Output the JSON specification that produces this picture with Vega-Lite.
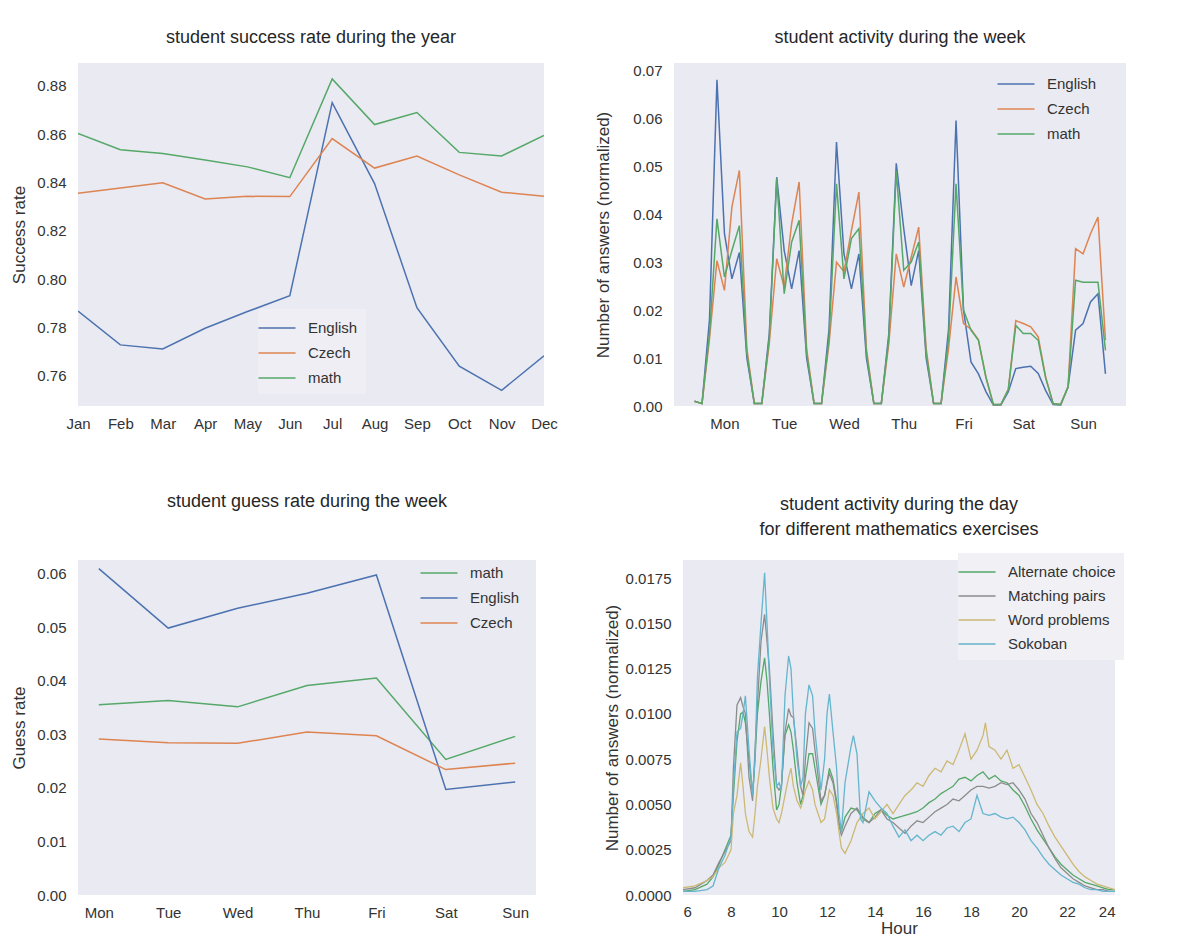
{
  "$schema": "https://vega.github.io/schema/vega-lite/v6.json",
  "background": "white",
  "padding": {"left": 10, "top": 29, "right": 0, "bottom": 0},
  "config": {
    "font": "Liberation Sans",
    "view": {"fill": "#EAEAF2", "stroke": null},
    "title": {"fontSize": 18, "fontWeight": "normal", "color": "#262626", "font": "Liberation Sans"},
    "axis": {"labelFontSize": 15, "labelColor": "#333333", "titleFontSize": 17, "titleFontWeight": "normal", "titleColor": "#333333", "ticks": false, "domain": false, "grid": false, "labelPadding": 10},
    "axisY": {"labelPadding": 12, "titlePadding": 8},
    "legend": {"labelFontSize": 15, "labelColor": "#333333", "symbolType": "M-1.85,0H1.85", "symbolSize": 400, "symbolStrokeWidth": 1.5, "rowPadding": 6, "labelOffset": 20, "padding": 0},
    "line": {"strokeWidth": 1.5}
  },
  "datasets": {
    "year": [
      {"m": "Jan", "s": "English", "v": 0.7868}, {"m": "Feb", "s": "English", "v": 0.7728}, {"m": "Mar", "s": "English", "v": 0.7711}, {"m": "Apr", "s": "English", "v": 0.7797}, {"m": "May", "s": "English", "v": 0.7866}, {"m": "Jun", "s": "English", "v": 0.7932}, {"m": "Jul", "s": "English", "v": 0.8731}, {"m": "Aug", "s": "English", "v": 0.8396}, {"m": "Sep", "s": "English", "v": 0.7882}, {"m": "Oct", "s": "English", "v": 0.764}, {"m": "Nov", "s": "English", "v": 0.754}, {"m": "Dec", "s": "English", "v": 0.7683},
      {"m": "Jan", "s": "Czech", "v": 0.8356}, {"m": "Feb", "s": "Czech", "v": 0.8378}, {"m": "Mar", "s": "Czech", "v": 0.8399}, {"m": "Apr", "s": "Czech", "v": 0.8332}, {"m": "May", "s": "Czech", "v": 0.8343}, {"m": "Jun", "s": "Czech", "v": 0.8342}, {"m": "Jul", "s": "Czech", "v": 0.8582}, {"m": "Aug", "s": "Czech", "v": 0.846}, {"m": "Sep", "s": "Czech", "v": 0.851}, {"m": "Oct", "s": "Czech", "v": 0.8432}, {"m": "Nov", "s": "Czech", "v": 0.836}, {"m": "Dec", "s": "Czech", "v": 0.8343},
      {"m": "Jan", "s": "math", "v": 0.8603}, {"m": "Feb", "s": "math", "v": 0.8536}, {"m": "Mar", "s": "math", "v": 0.852}, {"m": "Apr", "s": "math", "v": 0.8493}, {"m": "May", "s": "math", "v": 0.8465}, {"m": "Jun", "s": "math", "v": 0.842}, {"m": "Jul", "s": "math", "v": 0.8829}, {"m": "Aug", "s": "math", "v": 0.864}, {"m": "Sep", "s": "math", "v": 0.869}, {"m": "Oct", "s": "math", "v": 0.8525}, {"m": "Nov", "s": "math", "v": 0.851}, {"m": "Dec", "s": "math", "v": 0.8595}
    ],
    "week": [
      {"i": 0, "s": "English", "v": 0.001}, {"i": 3, "s": "English", "v": 0.0005}, {"i": 6, "s": "English", "v": 0.018}, {"i": 9, "s": "English", "v": 0.068}, {"i": 12, "s": "English", "v": 0.036}, {"i": 15, "s": "English", "v": 0.0265}, {"i": 18, "s": "English", "v": 0.032}, {"i": 21, "s": "English", "v": 0.010},
      {"i": 24, "s": "English", "v": 0.0005}, {"i": 27, "s": "English", "v": 0.0005}, {"i": 30, "s": "English", "v": 0.015}, {"i": 33, "s": "English", "v": 0.0477}, {"i": 36, "s": "English", "v": 0.0324}, {"i": 39, "s": "English", "v": 0.0244}, {"i": 42, "s": "English", "v": 0.0324}, {"i": 45, "s": "English", "v": 0.010},
      {"i": 48, "s": "English", "v": 0.0005}, {"i": 51, "s": "English", "v": 0.0005}, {"i": 54, "s": "English", "v": 0.016}, {"i": 57, "s": "English", "v": 0.055}, {"i": 60, "s": "English", "v": 0.0317}, {"i": 63, "s": "English", "v": 0.0244}, {"i": 66, "s": "English", "v": 0.0317}, {"i": 69, "s": "English", "v": 0.010},
      {"i": 72, "s": "English", "v": 0.0005}, {"i": 75, "s": "English", "v": 0.0005}, {"i": 78, "s": "English", "v": 0.015}, {"i": 81, "s": "English", "v": 0.0506}, {"i": 84, "s": "English", "v": 0.037}, {"i": 87, "s": "English", "v": 0.0251}, {"i": 90, "s": "English", "v": 0.0324}, {"i": 93, "s": "English", "v": 0.010},
      {"i": 96, "s": "English", "v": 0.0005}, {"i": 99, "s": "English", "v": 0.0005}, {"i": 102, "s": "English", "v": 0.016}, {"i": 105, "s": "English", "v": 0.0595}, {"i": 108, "s": "English", "v": 0.020}, {"i": 111, "s": "English", "v": 0.0092}, {"i": 114, "s": "English", "v": 0.0067}, {"i": 117, "s": "English", "v": 0.003},
      {"i": 120, "s": "English", "v": 0.0002}, {"i": 123, "s": "English", "v": 0.0002}, {"i": 126, "s": "English", "v": 0.003}, {"i": 129, "s": "English", "v": 0.0078}, {"i": 132, "s": "English", "v": 0.0081}, {"i": 135, "s": "English", "v": 0.0083}, {"i": 138, "s": "English", "v": 0.0068}, {"i": 141, "s": "English", "v": 0.0032},
      {"i": 144, "s": "English", "v": 0.0003}, {"i": 147, "s": "English", "v": 0.0002}, {"i": 150, "s": "English", "v": 0.004}, {"i": 153, "s": "English", "v": 0.0158}, {"i": 156, "s": "English", "v": 0.0172}, {"i": 159, "s": "English", "v": 0.0217}, {"i": 162, "s": "English", "v": 0.0234}, {"i": 165, "s": "English", "v": 0.0067},
      {"i": 0, "s": "Czech", "v": 0.001}, {"i": 3, "s": "Czech", "v": 0.0005}, {"i": 6, "s": "Czech", "v": 0.014}, {"i": 9, "s": "Czech", "v": 0.0303}, {"i": 12, "s": "Czech", "v": 0.0241}, {"i": 15, "s": "Czech", "v": 0.0415}, {"i": 18, "s": "Czech", "v": 0.0491}, {"i": 21, "s": "Czech", "v": 0.012},
      {"i": 24, "s": "Czech", "v": 0.0005}, {"i": 27, "s": "Czech", "v": 0.0005}, {"i": 30, "s": "Czech", "v": 0.013}, {"i": 33, "s": "Czech", "v": 0.0307}, {"i": 36, "s": "Czech", "v": 0.0248}, {"i": 39, "s": "Czech", "v": 0.038}, {"i": 42, "s": "Czech", "v": 0.0467}, {"i": 45, "s": "Czech", "v": 0.012},
      {"i": 48, "s": "Czech", "v": 0.0005}, {"i": 51, "s": "Czech", "v": 0.0005}, {"i": 54, "s": "Czech", "v": 0.013}, {"i": 57, "s": "Czech", "v": 0.030}, {"i": 60, "s": "Czech", "v": 0.028}, {"i": 63, "s": "Czech", "v": 0.0366}, {"i": 66, "s": "Czech", "v": 0.0446}, {"i": 69, "s": "Czech", "v": 0.012},
      {"i": 72, "s": "Czech", "v": 0.0005}, {"i": 75, "s": "Czech", "v": 0.0005}, {"i": 78, "s": "Czech", "v": 0.013}, {"i": 81, "s": "Czech", "v": 0.0317}, {"i": 84, "s": "Czech", "v": 0.0248}, {"i": 87, "s": "Czech", "v": 0.031}, {"i": 90, "s": "Czech", "v": 0.0373}, {"i": 93, "s": "Czech", "v": 0.012},
      {"i": 96, "s": "Czech", "v": 0.0005}, {"i": 99, "s": "Czech", "v": 0.0005}, {"i": 102, "s": "Czech", "v": 0.012}, {"i": 105, "s": "Czech", "v": 0.0269}, {"i": 108, "s": "Czech", "v": 0.0172}, {"i": 111, "s": "Czech", "v": 0.016}, {"i": 114, "s": "Czech", "v": 0.0138}, {"i": 117, "s": "Czech", "v": 0.006},
      {"i": 120, "s": "Czech", "v": 0.0003}, {"i": 123, "s": "Czech", "v": 0.0003}, {"i": 126, "s": "Czech", "v": 0.0035}, {"i": 129, "s": "Czech", "v": 0.0178}, {"i": 132, "s": "Czech", "v": 0.0172}, {"i": 135, "s": "Czech", "v": 0.0165}, {"i": 138, "s": "Czech", "v": 0.0144}, {"i": 141, "s": "Czech", "v": 0.006},
      {"i": 144, "s": "Czech", "v": 0.0005}, {"i": 147, "s": "Czech", "v": 0.0003}, {"i": 150, "s": "Czech", "v": 0.004}, {"i": 153, "s": "Czech", "v": 0.0328}, {"i": 156, "s": "Czech", "v": 0.0317}, {"i": 159, "s": "Czech", "v": 0.0359}, {"i": 162, "s": "Czech", "v": 0.0394}, {"i": 165, "s": "Czech", "v": 0.0137},
      {"i": 0, "s": "math", "v": 0.001}, {"i": 3, "s": "math", "v": 0.0005}, {"i": 6, "s": "math", "v": 0.015}, {"i": 9, "s": "math", "v": 0.039}, {"i": 12, "s": "math", "v": 0.0269}, {"i": 15, "s": "math", "v": 0.0324}, {"i": 18, "s": "math", "v": 0.0376}, {"i": 21, "s": "math", "v": 0.011},
      {"i": 24, "s": "math", "v": 0.0005}, {"i": 27, "s": "math", "v": 0.0005}, {"i": 30, "s": "math", "v": 0.014}, {"i": 33, "s": "math", "v": 0.0474}, {"i": 36, "s": "math", "v": 0.0234}, {"i": 39, "s": "math", "v": 0.0342}, {"i": 42, "s": "math", "v": 0.0387}, {"i": 45, "s": "math", "v": 0.011},
      {"i": 48, "s": "math", "v": 0.0005}, {"i": 51, "s": "math", "v": 0.0005}, {"i": 54, "s": "math", "v": 0.014}, {"i": 57, "s": "math", "v": 0.0463}, {"i": 60, "s": "math", "v": 0.0265}, {"i": 63, "s": "math", "v": 0.0349}, {"i": 66, "s": "math", "v": 0.037}, {"i": 69, "s": "math", "v": 0.011},
      {"i": 72, "s": "math", "v": 0.0005}, {"i": 75, "s": "math", "v": 0.0005}, {"i": 78, "s": "math", "v": 0.014}, {"i": 81, "s": "math", "v": 0.049}, {"i": 84, "s": "math", "v": 0.0283}, {"i": 87, "s": "math", "v": 0.030}, {"i": 90, "s": "math", "v": 0.0342}, {"i": 93, "s": "math", "v": 0.011},
      {"i": 96, "s": "math", "v": 0.0005}, {"i": 99, "s": "math", "v": 0.0005}, {"i": 102, "s": "math", "v": 0.014}, {"i": 105, "s": "math", "v": 0.0463}, {"i": 108, "s": "math", "v": 0.020}, {"i": 111, "s": "math", "v": 0.0158}, {"i": 114, "s": "math", "v": 0.0137}, {"i": 117, "s": "math", "v": 0.006},
      {"i": 120, "s": "math", "v": 0.0003}, {"i": 123, "s": "math", "v": 0.0003}, {"i": 126, "s": "math", "v": 0.0035}, {"i": 129, "s": "math", "v": 0.0168}, {"i": 132, "s": "math", "v": 0.0151}, {"i": 135, "s": "math", "v": 0.0151}, {"i": 138, "s": "math", "v": 0.0137}, {"i": 141, "s": "math", "v": 0.0058},
      {"i": 144, "s": "math", "v": 0.0005}, {"i": 147, "s": "math", "v": 0.0003}, {"i": 150, "s": "math", "v": 0.004}, {"i": 153, "s": "math", "v": 0.0262}, {"i": 156, "s": "math", "v": 0.0258}, {"i": 159, "s": "math", "v": 0.0258}, {"i": 162, "s": "math", "v": 0.0258}, {"i": 165, "s": "math", "v": 0.0116}
    ],
    "guess": [
      {"d": "Mon", "s": "math", "v": 0.0355}, {"d": "Tue", "s": "math", "v": 0.0363}, {"d": "Wed", "s": "math", "v": 0.0351}, {"d": "Thu", "s": "math", "v": 0.0391}, {"d": "Fri", "s": "math", "v": 0.0405}, {"d": "Sat", "s": "math", "v": 0.0253}, {"d": "Sun", "s": "math", "v": 0.0296},
      {"d": "Mon", "s": "English", "v": 0.0609}, {"d": "Tue", "s": "English", "v": 0.0498}, {"d": "Wed", "s": "English", "v": 0.0535}, {"d": "Thu", "s": "English", "v": 0.0563}, {"d": "Fri", "s": "English", "v": 0.0597}, {"d": "Sat", "s": "English", "v": 0.0197}, {"d": "Sun", "s": "English", "v": 0.0211},
      {"d": "Mon", "s": "Czech", "v": 0.0291}, {"d": "Tue", "s": "Czech", "v": 0.0284}, {"d": "Wed", "s": "Czech", "v": 0.0283}, {"d": "Thu", "s": "Czech", "v": 0.0304}, {"d": "Fri", "s": "Czech", "v": 0.0297}, {"d": "Sat", "s": "Czech", "v": 0.0234}, {"d": "Sun", "s": "Czech", "v": 0.0246}
    ],
    "day": [
      {"h": 6, "e": "Alternate choice", "v": 0.0002}, {"h": 6.5, "e": "Alternate choice", "v": 0.0003}, {"h": 7, "e": "Alternate choice", "v": 0.0006}, {"h": 7.25, "e": "Alternate choice", "v": 0.001}, {"h": 7.5, "e": "Alternate choice", "v": 0.0017}, {"h": 7.75, "e": "Alternate choice", "v": 0.0025}, {"h": 8, "e": "Alternate choice", "v": 0.0033}, {"h": 8.1, "e": "Alternate choice", "v": 0.0055}, {"h": 8.25, "e": "Alternate choice", "v": 0.0085}, {"h": 8.4, "e": "Alternate choice", "v": 0.01}, {"h": 8.5, "e": "Alternate choice", "v": 0.0101}, {"h": 8.6, "e": "Alternate choice", "v": 0.0095}, {"h": 8.75, "e": "Alternate choice", "v": 0.0075}, {"h": 8.9, "e": "Alternate choice", "v": 0.0055}, {"h": 9, "e": "Alternate choice", "v": 0.0075}, {"h": 9.1, "e": "Alternate choice", "v": 0.01}, {"h": 9.25, "e": "Alternate choice", "v": 0.0118}, {"h": 9.4, "e": "Alternate choice", "v": 0.0131}, {"h": 9.5, "e": "Alternate choice", "v": 0.0118}, {"h": 9.6, "e": "Alternate choice", "v": 0.01}, {"h": 9.75, "e": "Alternate choice", "v": 0.007}, {"h": 9.9, "e": "Alternate choice", "v": 0.0047}, {"h": 10, "e": "Alternate choice", "v": 0.005}, {"h": 10.1, "e": "Alternate choice", "v": 0.006}, {"h": 10.25, "e": "Alternate choice", "v": 0.0088}, {"h": 10.4, "e": "Alternate choice", "v": 0.0094}, {"h": 10.5, "e": "Alternate choice", "v": 0.009}, {"h": 10.6, "e": "Alternate choice", "v": 0.008}, {"h": 10.75, "e": "Alternate choice", "v": 0.0062}, {"h": 10.9, "e": "Alternate choice", "v": 0.005}, {"h": 11, "e": "Alternate choice", "v": 0.0055}, {"h": 11.1, "e": "Alternate choice", "v": 0.0065}, {"h": 11.25, "e": "Alternate choice", "v": 0.0078}, {"h": 11.4, "e": "Alternate choice", "v": 0.0078}, {"h": 11.5, "e": "Alternate choice", "v": 0.007}, {"h": 11.75, "e": "Alternate choice", "v": 0.005}, {"h": 11.9, "e": "Alternate choice", "v": 0.0055}, {"h": 12, "e": "Alternate choice", "v": 0.0062}, {"h": 12.1, "e": "Alternate choice", "v": 0.007}, {"h": 12.25, "e": "Alternate choice", "v": 0.0064}, {"h": 12.4, "e": "Alternate choice", "v": 0.0052}, {"h": 12.5, "e": "Alternate choice", "v": 0.004}, {"h": 12.6, "e": "Alternate choice", "v": 0.0035}, {"h": 12.75, "e": "Alternate choice", "v": 0.0043}, {"h": 13, "e": "Alternate choice", "v": 0.0048}, {"h": 13.25, "e": "Alternate choice", "v": 0.0047}, {"h": 13.5, "e": "Alternate choice", "v": 0.0042}, {"h": 13.75, "e": "Alternate choice", "v": 0.004}, {"h": 14, "e": "Alternate choice", "v": 0.0045}, {"h": 14.25, "e": "Alternate choice", "v": 0.0047}, {"h": 14.5, "e": "Alternate choice", "v": 0.0044}, {"h": 14.75, "e": "Alternate choice", "v": 0.0042}, {"h": 15, "e": "Alternate choice", "v": 0.0043}, {"h": 15.25, "e": "Alternate choice", "v": 0.0044}, {"h": 15.5, "e": "Alternate choice", "v": 0.0045}, {"h": 15.75, "e": "Alternate choice", "v": 0.0046}, {"h": 16, "e": "Alternate choice", "v": 0.0048}, {"h": 16.25, "e": "Alternate choice", "v": 0.0051}, {"h": 16.5, "e": "Alternate choice", "v": 0.0053}, {"h": 16.75, "e": "Alternate choice", "v": 0.0056}, {"h": 17, "e": "Alternate choice", "v": 0.0058}, {"h": 17.25, "e": "Alternate choice", "v": 0.006}, {"h": 17.5, "e": "Alternate choice", "v": 0.0064}, {"h": 17.75, "e": "Alternate choice", "v": 0.0065}, {"h": 18, "e": "Alternate choice", "v": 0.0063}, {"h": 18.25, "e": "Alternate choice", "v": 0.0066}, {"h": 18.5, "e": "Alternate choice", "v": 0.0068}, {"h": 18.75, "e": "Alternate choice", "v": 0.0064}, {"h": 19, "e": "Alternate choice", "v": 0.0066}, {"h": 19.25, "e": "Alternate choice", "v": 0.0063}, {"h": 19.5, "e": "Alternate choice", "v": 0.0062}, {"h": 19.75, "e": "Alternate choice", "v": 0.0058}, {"h": 20, "e": "Alternate choice", "v": 0.0055}, {"h": 20.25, "e": "Alternate choice", "v": 0.0049}, {"h": 20.5, "e": "Alternate choice", "v": 0.0042}, {"h": 20.75, "e": "Alternate choice", "v": 0.0036}, {"h": 21, "e": "Alternate choice", "v": 0.0031}, {"h": 21.25, "e": "Alternate choice", "v": 0.0026}, {"h": 21.5, "e": "Alternate choice", "v": 0.0021}, {"h": 21.75, "e": "Alternate choice", "v": 0.0017}, {"h": 22, "e": "Alternate choice", "v": 0.0014}, {"h": 22.25, "e": "Alternate choice", "v": 0.0011}, {"h": 22.5, "e": "Alternate choice", "v": 0.0009}, {"h": 22.75, "e": "Alternate choice", "v": 0.0007}, {"h": 23, "e": "Alternate choice", "v": 0.0006}, {"h": 23.25, "e": "Alternate choice", "v": 0.0005}, {"h": 23.5, "e": "Alternate choice", "v": 0.0004}, {"h": 23.75, "e": "Alternate choice", "v": 0.0003}, {"h": 24, "e": "Alternate choice", "v": 0.0003},
      {"h": 6, "e": "Matching pairs", "v": 0.0003}, {"h": 6.5, "e": "Matching pairs", "v": 0.0004}, {"h": 7, "e": "Matching pairs", "v": 0.0008}, {"h": 7.25, "e": "Matching pairs", "v": 0.0011}, {"h": 7.5, "e": "Matching pairs", "v": 0.0018}, {"h": 7.75, "e": "Matching pairs", "v": 0.0024}, {"h": 8, "e": "Matching pairs", "v": 0.003}, {"h": 8.1, "e": "Matching pairs", "v": 0.007}, {"h": 8.25, "e": "Matching pairs", "v": 0.0105}, {"h": 8.4, "e": "Matching pairs", "v": 0.0109}, {"h": 8.5, "e": "Matching pairs", "v": 0.0104}, {"h": 8.6, "e": "Matching pairs", "v": 0.01}, {"h": 8.75, "e": "Matching pairs", "v": 0.0065}, {"h": 8.9, "e": "Matching pairs", "v": 0.0052}, {"h": 9, "e": "Matching pairs", "v": 0.008}, {"h": 9.1, "e": "Matching pairs", "v": 0.0105}, {"h": 9.25, "e": "Matching pairs", "v": 0.014}, {"h": 9.4, "e": "Matching pairs", "v": 0.0155}, {"h": 9.5, "e": "Matching pairs", "v": 0.014}, {"h": 9.6, "e": "Matching pairs", "v": 0.0125}, {"h": 9.75, "e": "Matching pairs", "v": 0.009}, {"h": 9.9, "e": "Matching pairs", "v": 0.006}, {"h": 10, "e": "Matching pairs", "v": 0.0058}, {"h": 10.1, "e": "Matching pairs", "v": 0.006}, {"h": 10.25, "e": "Matching pairs", "v": 0.009}, {"h": 10.4, "e": "Matching pairs", "v": 0.0103}, {"h": 10.5, "e": "Matching pairs", "v": 0.0099}, {"h": 10.6, "e": "Matching pairs", "v": 0.0098}, {"h": 10.75, "e": "Matching pairs", "v": 0.008}, {"h": 10.9, "e": "Matching pairs", "v": 0.006}, {"h": 11, "e": "Matching pairs", "v": 0.0055}, {"h": 11.1, "e": "Matching pairs", "v": 0.0075}, {"h": 11.25, "e": "Matching pairs", "v": 0.0095}, {"h": 11.4, "e": "Matching pairs", "v": 0.0092}, {"h": 11.5, "e": "Matching pairs", "v": 0.008}, {"h": 11.75, "e": "Matching pairs", "v": 0.0052}, {"h": 11.9, "e": "Matching pairs", "v": 0.0055}, {"h": 12, "e": "Matching pairs", "v": 0.0062}, {"h": 12.1, "e": "Matching pairs", "v": 0.0067}, {"h": 12.25, "e": "Matching pairs", "v": 0.0062}, {"h": 12.4, "e": "Matching pairs", "v": 0.005}, {"h": 12.5, "e": "Matching pairs", "v": 0.0038}, {"h": 12.6, "e": "Matching pairs", "v": 0.0033}, {"h": 12.75, "e": "Matching pairs", "v": 0.0038}, {"h": 13, "e": "Matching pairs", "v": 0.0045}, {"h": 13.25, "e": "Matching pairs", "v": 0.0048}, {"h": 13.5, "e": "Matching pairs", "v": 0.0043}, {"h": 13.75, "e": "Matching pairs", "v": 0.004}, {"h": 14, "e": "Matching pairs", "v": 0.0043}, {"h": 14.25, "e": "Matching pairs", "v": 0.0047}, {"h": 14.5, "e": "Matching pairs", "v": 0.0042}, {"h": 14.75, "e": "Matching pairs", "v": 0.004}, {"h": 15, "e": "Matching pairs", "v": 0.0037}, {"h": 15.25, "e": "Matching pairs", "v": 0.0034}, {"h": 15.5, "e": "Matching pairs", "v": 0.0038}, {"h": 15.75, "e": "Matching pairs", "v": 0.0041}, {"h": 16, "e": "Matching pairs", "v": 0.004}, {"h": 16.25, "e": "Matching pairs", "v": 0.0043}, {"h": 16.5, "e": "Matching pairs", "v": 0.0046}, {"h": 16.75, "e": "Matching pairs", "v": 0.0048}, {"h": 17, "e": "Matching pairs", "v": 0.005}, {"h": 17.25, "e": "Matching pairs", "v": 0.0053}, {"h": 17.5, "e": "Matching pairs", "v": 0.0052}, {"h": 17.75, "e": "Matching pairs", "v": 0.0055}, {"h": 18, "e": "Matching pairs", "v": 0.0058}, {"h": 18.25, "e": "Matching pairs", "v": 0.006}, {"h": 18.5, "e": "Matching pairs", "v": 0.006}, {"h": 18.75, "e": "Matching pairs", "v": 0.0059}, {"h": 19, "e": "Matching pairs", "v": 0.006}, {"h": 19.25, "e": "Matching pairs", "v": 0.0062}, {"h": 19.5, "e": "Matching pairs", "v": 0.0061}, {"h": 19.75, "e": "Matching pairs", "v": 0.0062}, {"h": 20, "e": "Matching pairs", "v": 0.0058}, {"h": 20.25, "e": "Matching pairs", "v": 0.0053}, {"h": 20.5, "e": "Matching pairs", "v": 0.0045}, {"h": 20.75, "e": "Matching pairs", "v": 0.004}, {"h": 21, "e": "Matching pairs", "v": 0.0033}, {"h": 21.25, "e": "Matching pairs", "v": 0.0026}, {"h": 21.5, "e": "Matching pairs", "v": 0.002}, {"h": 21.75, "e": "Matching pairs", "v": 0.0015}, {"h": 22, "e": "Matching pairs", "v": 0.0012}, {"h": 22.25, "e": "Matching pairs", "v": 0.0009}, {"h": 22.5, "e": "Matching pairs", "v": 0.0007}, {"h": 22.75, "e": "Matching pairs", "v": 0.0005}, {"h": 23, "e": "Matching pairs", "v": 0.0004}, {"h": 23.25, "e": "Matching pairs", "v": 0.0003}, {"h": 23.5, "e": "Matching pairs", "v": 0.0003}, {"h": 23.75, "e": "Matching pairs", "v": 0.0002}, {"h": 24, "e": "Matching pairs", "v": 0.0002},
      {"h": 6, "e": "Word problems", "v": 0.0004}, {"h": 6.5, "e": "Word problems", "v": 0.0005}, {"h": 7, "e": "Word problems", "v": 0.0008}, {"h": 7.25, "e": "Word problems", "v": 0.001}, {"h": 7.5, "e": "Word problems", "v": 0.0015}, {"h": 7.75, "e": "Word problems", "v": 0.0018}, {"h": 8, "e": "Word problems", "v": 0.0025}, {"h": 8.1, "e": "Word problems", "v": 0.0045}, {"h": 8.25, "e": "Word problems", "v": 0.0055}, {"h": 8.4, "e": "Word problems", "v": 0.0073}, {"h": 8.5, "e": "Word problems", "v": 0.006}, {"h": 8.6, "e": "Word problems", "v": 0.0045}, {"h": 8.75, "e": "Word problems", "v": 0.0035}, {"h": 8.9, "e": "Word problems", "v": 0.0032}, {"h": 9, "e": "Word problems", "v": 0.0045}, {"h": 9.1, "e": "Word problems", "v": 0.006}, {"h": 9.25, "e": "Word problems", "v": 0.0075}, {"h": 9.4, "e": "Word problems", "v": 0.0093}, {"h": 9.5, "e": "Word problems", "v": 0.008}, {"h": 9.6, "e": "Word problems", "v": 0.0065}, {"h": 9.75, "e": "Word problems", "v": 0.0048}, {"h": 9.9, "e": "Word problems", "v": 0.0042}, {"h": 10, "e": "Word problems", "v": 0.004}, {"h": 10.1, "e": "Word problems", "v": 0.0045}, {"h": 10.25, "e": "Word problems", "v": 0.0055}, {"h": 10.4, "e": "Word problems", "v": 0.0065}, {"h": 10.5, "e": "Word problems", "v": 0.007}, {"h": 10.6, "e": "Word problems", "v": 0.006}, {"h": 10.75, "e": "Word problems", "v": 0.0052}, {"h": 10.9, "e": "Word problems", "v": 0.0048}, {"h": 11, "e": "Word problems", "v": 0.0052}, {"h": 11.1, "e": "Word problems", "v": 0.0058}, {"h": 11.25, "e": "Word problems", "v": 0.0063}, {"h": 11.4, "e": "Word problems", "v": 0.0058}, {"h": 11.5, "e": "Word problems", "v": 0.005}, {"h": 11.75, "e": "Word problems", "v": 0.004}, {"h": 11.9, "e": "Word problems", "v": 0.0042}, {"h": 12, "e": "Word problems", "v": 0.005}, {"h": 12.1, "e": "Word problems", "v": 0.0058}, {"h": 12.25, "e": "Word problems", "v": 0.0055}, {"h": 12.4, "e": "Word problems", "v": 0.0045}, {"h": 12.5, "e": "Word problems", "v": 0.0035}, {"h": 12.6, "e": "Word problems", "v": 0.0026}, {"h": 12.75, "e": "Word problems", "v": 0.0023}, {"h": 13, "e": "Word problems", "v": 0.003}, {"h": 13.25, "e": "Word problems", "v": 0.004}, {"h": 13.5, "e": "Word problems", "v": 0.0045}, {"h": 13.75, "e": "Word problems", "v": 0.0048}, {"h": 14, "e": "Word problems", "v": 0.0042}, {"h": 14.25, "e": "Word problems", "v": 0.0046}, {"h": 14.5, "e": "Word problems", "v": 0.005}, {"h": 14.75, "e": "Word problems", "v": 0.0045}, {"h": 15, "e": "Word problems", "v": 0.005}, {"h": 15.25, "e": "Word problems", "v": 0.0055}, {"h": 15.5, "e": "Word problems", "v": 0.0058}, {"h": 15.75, "e": "Word problems", "v": 0.0062}, {"h": 16, "e": "Word problems", "v": 0.006}, {"h": 16.25, "e": "Word problems", "v": 0.0066}, {"h": 16.5, "e": "Word problems", "v": 0.007}, {"h": 16.75, "e": "Word problems", "v": 0.0068}, {"h": 17, "e": "Word problems", "v": 0.0074}, {"h": 17.25, "e": "Word problems", "v": 0.0072}, {"h": 17.5, "e": "Word problems", "v": 0.008}, {"h": 17.75, "e": "Word problems", "v": 0.0089}, {"h": 18, "e": "Word problems", "v": 0.0075}, {"h": 18.25, "e": "Word problems", "v": 0.008}, {"h": 18.5, "e": "Word problems", "v": 0.0088}, {"h": 18.6, "e": "Word problems", "v": 0.0095}, {"h": 18.75, "e": "Word problems", "v": 0.0082}, {"h": 19, "e": "Word problems", "v": 0.008}, {"h": 19.25, "e": "Word problems", "v": 0.0075}, {"h": 19.5, "e": "Word problems", "v": 0.008}, {"h": 19.75, "e": "Word problems", "v": 0.007}, {"h": 20, "e": "Word problems", "v": 0.0072}, {"h": 20.25, "e": "Word problems", "v": 0.0065}, {"h": 20.5, "e": "Word problems", "v": 0.0058}, {"h": 20.75, "e": "Word problems", "v": 0.005}, {"h": 21, "e": "Word problems", "v": 0.0045}, {"h": 21.25, "e": "Word problems", "v": 0.0038}, {"h": 21.5, "e": "Word problems", "v": 0.0032}, {"h": 21.75, "e": "Word problems", "v": 0.0027}, {"h": 22, "e": "Word problems", "v": 0.0022}, {"h": 22.25, "e": "Word problems", "v": 0.0017}, {"h": 22.5, "e": "Word problems", "v": 0.0013}, {"h": 22.75, "e": "Word problems", "v": 0.001}, {"h": 23, "e": "Word problems", "v": 0.0008}, {"h": 23.25, "e": "Word problems", "v": 0.0006}, {"h": 23.5, "e": "Word problems", "v": 0.0005}, {"h": 23.75, "e": "Word problems", "v": 0.0004}, {"h": 24, "e": "Word problems", "v": 0.0003},
      {"h": 6, "e": "Sokoban", "v": 0.0002}, {"h": 6.5, "e": "Sokoban", "v": 0.0002}, {"h": 7, "e": "Sokoban", "v": 0.0003}, {"h": 7.25, "e": "Sokoban", "v": 0.0005}, {"h": 7.5, "e": "Sokoban", "v": 0.0015}, {"h": 7.75, "e": "Sokoban", "v": 0.0022}, {"h": 8, "e": "Sokoban", "v": 0.0032}, {"h": 8.1, "e": "Sokoban", "v": 0.006}, {"h": 8.25, "e": "Sokoban", "v": 0.009}, {"h": 8.4, "e": "Sokoban", "v": 0.0092}, {"h": 8.5, "e": "Sokoban", "v": 0.01}, {"h": 8.6, "e": "Sokoban", "v": 0.011}, {"h": 8.75, "e": "Sokoban", "v": 0.008}, {"h": 8.9, "e": "Sokoban", "v": 0.0055}, {"h": 9, "e": "Sokoban", "v": 0.0075}, {"h": 9.1, "e": "Sokoban", "v": 0.012}, {"h": 9.25, "e": "Sokoban", "v": 0.015}, {"h": 9.4, "e": "Sokoban", "v": 0.0178}, {"h": 9.5, "e": "Sokoban", "v": 0.015}, {"h": 9.6, "e": "Sokoban", "v": 0.012}, {"h": 9.75, "e": "Sokoban", "v": 0.008}, {"h": 9.9, "e": "Sokoban", "v": 0.006}, {"h": 10, "e": "Sokoban", "v": 0.0062}, {"h": 10.1, "e": "Sokoban", "v": 0.0058}, {"h": 10.25, "e": "Sokoban", "v": 0.011}, {"h": 10.4, "e": "Sokoban", "v": 0.0132}, {"h": 10.5, "e": "Sokoban", "v": 0.0125}, {"h": 10.6, "e": "Sokoban", "v": 0.01}, {"h": 10.75, "e": "Sokoban", "v": 0.0075}, {"h": 10.9, "e": "Sokoban", "v": 0.006}, {"h": 11, "e": "Sokoban", "v": 0.0065}, {"h": 11.1, "e": "Sokoban", "v": 0.01}, {"h": 11.25, "e": "Sokoban", "v": 0.0116}, {"h": 11.4, "e": "Sokoban", "v": 0.011}, {"h": 11.5, "e": "Sokoban", "v": 0.009}, {"h": 11.75, "e": "Sokoban", "v": 0.0058}, {"h": 11.9, "e": "Sokoban", "v": 0.0075}, {"h": 12, "e": "Sokoban", "v": 0.01}, {"h": 12.1, "e": "Sokoban", "v": 0.0111}, {"h": 12.25, "e": "Sokoban", "v": 0.009}, {"h": 12.4, "e": "Sokoban", "v": 0.007}, {"h": 12.5, "e": "Sokoban", "v": 0.0045}, {"h": 12.6, "e": "Sokoban", "v": 0.0035}, {"h": 12.75, "e": "Sokoban", "v": 0.0062}, {"h": 13, "e": "Sokoban", "v": 0.0082}, {"h": 13.1, "e": "Sokoban", "v": 0.0088}, {"h": 13.25, "e": "Sokoban", "v": 0.0078}, {"h": 13.4, "e": "Sokoban", "v": 0.0042}, {"h": 13.5, "e": "Sokoban", "v": 0.004}, {"h": 13.75, "e": "Sokoban", "v": 0.0057}, {"h": 14, "e": "Sokoban", "v": 0.0052}, {"h": 14.25, "e": "Sokoban", "v": 0.0048}, {"h": 14.5, "e": "Sokoban", "v": 0.0045}, {"h": 14.75, "e": "Sokoban", "v": 0.0038}, {"h": 15, "e": "Sokoban", "v": 0.0032}, {"h": 15.25, "e": "Sokoban", "v": 0.0036}, {"h": 15.5, "e": "Sokoban", "v": 0.003}, {"h": 15.75, "e": "Sokoban", "v": 0.0033}, {"h": 16, "e": "Sokoban", "v": 0.003}, {"h": 16.25, "e": "Sokoban", "v": 0.0033}, {"h": 16.5, "e": "Sokoban", "v": 0.0035}, {"h": 16.75, "e": "Sokoban", "v": 0.0033}, {"h": 17, "e": "Sokoban", "v": 0.0037}, {"h": 17.25, "e": "Sokoban", "v": 0.0038}, {"h": 17.5, "e": "Sokoban", "v": 0.0035}, {"h": 17.75, "e": "Sokoban", "v": 0.004}, {"h": 18, "e": "Sokoban", "v": 0.0042}, {"h": 18.25, "e": "Sokoban", "v": 0.0055}, {"h": 18.5, "e": "Sokoban", "v": 0.0045}, {"h": 18.75, "e": "Sokoban", "v": 0.0044}, {"h": 19, "e": "Sokoban", "v": 0.0045}, {"h": 19.25, "e": "Sokoban", "v": 0.0043}, {"h": 19.5, "e": "Sokoban", "v": 0.0042}, {"h": 19.75, "e": "Sokoban", "v": 0.0043}, {"h": 20, "e": "Sokoban", "v": 0.004}, {"h": 20.25, "e": "Sokoban", "v": 0.0036}, {"h": 20.5, "e": "Sokoban", "v": 0.003}, {"h": 20.75, "e": "Sokoban", "v": 0.0026}, {"h": 21, "e": "Sokoban", "v": 0.0021}, {"h": 21.25, "e": "Sokoban", "v": 0.0017}, {"h": 21.5, "e": "Sokoban", "v": 0.0014}, {"h": 21.75, "e": "Sokoban", "v": 0.0011}, {"h": 22, "e": "Sokoban", "v": 0.0009}, {"h": 22.25, "e": "Sokoban", "v": 0.0007}, {"h": 22.5, "e": "Sokoban", "v": 0.0006}, {"h": 22.75, "e": "Sokoban", "v": 0.0004}, {"h": 23, "e": "Sokoban", "v": 0.0003}, {"h": 23.25, "e": "Sokoban", "v": 0.0003}, {"h": 23.5, "e": "Sokoban", "v": 0.0002}, {"h": 23.75, "e": "Sokoban", "v": 0.0002}, {"h": 24, "e": "Sokoban", "v": 0.0002}
    ]
  },
  "resolve": {"scale": {"color": "independent"}, "legend": {"color": "independent"}},
  "vconcat": [
    {
      "hconcat": [
        {
          "width": 466, "height": 343,
          "title": {"text": "student success rate during the year", "offset": 16},
          "data": {"name": "year"},
          "mark": {"type": "line", "clip": true},
          "encoding": {
            "x": {"field": "m", "type": "ordinal", "sort": ["Jan","Feb","Mar","Apr","May","Jun","Jul","Aug","Sep","Oct","Nov","Dec"], "scale": {"padding": 0}, "axis": {"title": null, "labelAngle": 0}},
            "y": {"field": "v", "type": "quantitative", "scale": {"domain": [0.7475, 0.8895], "zero": false, "nice": false}, "axis": {"title": "Success rate", "values": [0.76, 0.78, 0.8, 0.82, 0.84, 0.86, 0.88], "format": ".2f"}},
            "color": {"field": "s", "type": "nominal", "scale": {"domain": ["English", "Czech", "math"], "range": ["#4C72B0", "#DD8452", "#55A868"]}, "legend": {"title": null, "orient": "none", "legendX": 180, "legendY": 246, "padding": 8, "fillColor": "#EEEEF4"}}
          }
        },
        {
          "width": 452, "height": 343,
          "title": {"text": "student activity during the week", "offset": 16},
          "data": {"name": "week"},
          "mark": {"type": "line", "clip": true},
          "encoding": {
            "x": {"field": "i", "type": "quantitative", "scale": {"domain": [-8.25, 173.25], "nice": false, "zero": false}, "axis": {"title": null, "values": [12, 36, 60, 84, 108, 132, 156], "labelExpr": "['Mon','Tue','Wed','Thu','Fri','Sat','Sun'][floor(datum.value / 24)]"}},
            "y": {"field": "v", "type": "quantitative", "scale": {"domain": [0, 0.0715], "nice": false}, "axis": {"title": "Number of answers (normalized)", "values": [0, 0.01, 0.02, 0.03, 0.04, 0.05, 0.06, 0.07], "format": ".2f", "titlePadding": 20}},
            "color": {"field": "s", "type": "nominal", "scale": {"domain": ["English", "Czech", "math"], "range": ["#4C72B0", "#DD8452", "#55A868"]}, "legend": {"title": null, "orient": "none", "legendX": 331, "legendY": 10}}
          }
        }
      ],
      "spacing": 36,
      "resolve": {"scale": {"color": "independent"}, "legend": {"color": "independent"}}
    },
    {
      "hconcat": [
        {
          "width": 458, "height": 335,
          "title": {"text": "student guess rate during the week", "offset": 49},
          "data": {"name": "guess"},
          "mark": {"type": "line", "clip": true},
          "encoding": {
            "x": {"field": "d", "type": "ordinal", "sort": ["Mon","Tue","Wed","Thu","Fri","Sat","Sun"], "scale": {"padding": 0.3}, "axis": {"title": null, "labelAngle": 0}},
            "y": {"field": "v", "type": "quantitative", "scale": {"domain": [0, 0.0625], "nice": false}, "axis": {"title": "Guess rate", "values": [0, 0.01, 0.02, 0.03, 0.04, 0.05, 0.06], "format": ".2f"}},
            "color": {"field": "s", "type": "nominal", "sort": ["math", "English", "Czech"], "scale": {"domain": ["math", "English", "Czech"], "range": ["#55A868", "#4C72B0", "#DD8452"]}, "legend": {"title": null, "orient": "none", "legendX": 350, "legendY": 2}}
          }
        },
        {
          "width": 432, "height": 335,
          "title": {"text": ["student activity during the day", "for different mathematics exercises"], "offset": 14, "lineHeight": 25},
          "data": {"name": "day"},
          "mark": {"type": "line", "clip": true, "strokeWidth": 1.3},
          "encoding": {
            "x": {"field": "h", "type": "quantitative", "scale": {"domain": [6, 24], "nice": false, "zero": false}, "axis": {"title": "Hour", "values": [6, 8, 10, 12, 14, 16, 18, 20, 22, 24], "titlePadding": 1, "labelPadding": 9}},
            "y": {"field": "v", "type": "quantitative", "scale": {"domain": [0, 0.0185], "nice": false}, "axis": {"title": "Number of answers (normalized)", "values": [0, 0.0025, 0.005, 0.0075, 0.01, 0.0125, 0.015, 0.0175], "format": ".4f", "titlePadding": 4}},
            "color": {"field": "e", "type": "nominal", "scale": {"domain": ["Alternate choice", "Matching pairs", "Word problems", "Sokoban"], "range": ["#55A868", "#8C8C8C", "#CCB974", "#64B5CD"]}, "legend": {"title": null, "orient": "none", "legendX": 275, "legendY": -7, "padding": 8, "fillColor": "#F0F0F5", "rowPadding": 5}}
          }
        }
      ],
      "spacing": 67,
      "resolve": {"scale": {"color": "independent"}, "legend": {"color": "independent"}}
    }
  ],
  "spacing": 62
}
